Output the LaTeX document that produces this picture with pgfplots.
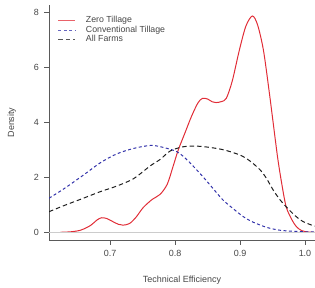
\documentclass[border=0pt]{standalone}
\usepackage{pgfplots}
\pgfplotsset{compat=1.18}
\usepackage{fontspec}
\setmainfont{Liberation Sans}
\definecolor{zt}{RGB}{225,45,55}
\definecolor{ct}{RGB}{50,50,170}
\definecolor{af}{RGB}{30,30,30}
\definecolor{ax}{RGB}{90,90,90}
\definecolor{tx}{RGB}{70,70,70}
\begin{document}
\begin{tikzpicture}
\path[use as bounding box] (0,0) rectangle (315bp,288bp);
\begin{axis}[
  at={(49bp,48bp)}, anchor=south west,
  scale only axis, width=266bp, height=235bp,
  xmin=0.606, xmax=1.0154, ymin=-0.28, ymax=8.27,
  axis x line*=bottom, axis y line*=left,
  axis line style={ax, line width=0.6pt, -},
  xtick={0.7,0.8,0.9,1.0}, ytick={0,2,4,6,8},
  xticklabels={0.7,0.8,0.9,1.0},
  tick style={ax, line width=0.6pt},
  tick align=outside, major tick length=4.5bp,
  /pgf/number format/assume math mode=true,
  ticklabel style={font=\fontsize{9}{10.8}\selectfont, text=tx},
  xticklabel style={yshift=-2bp},
  yticklabel style={xshift=-2bp},
  xlabel={Technical Efficiency}, ylabel={Density},
  label style={font=\fontsize{9}{10.8}\selectfont, text=tx},
  xlabel style={at={(axis description cs:0.5,-0.173)}, anchor=center},
  ylabel style={at={(axis description cs:-0.14,0.50)}, anchor=center},
  clip=true,
  legend cell align=left,
  legend style={draw=none, fill=none, inner sep=0pt, at={(axis description cs:0.034,0.954)}, anchor=north west,
    font=\fontsize{8.8}{10}\selectfont, text=tx, row sep=1.4bp,
    nodes={inner sep=0pt, text height=6.5bp, text depth=1.8bp}},
  legend image code/.code={\draw[#1, line width=0.5pt, draw opacity=0.75] (0bp,0bp) -- (17bp,0bp); \path (27bp,0bp);},
]
\addplot[zt, line width=1pt, smooth] coordinates {
(0.623,0) (0.64,0.02) (0.655,0.08) (0.67,0.25) (0.68,0.45) (0.687,0.53) (0.695,0.5) (0.705,0.38) (0.713,0.29) (0.72,0.26) (0.73,0.32) (0.74,0.55) (0.751,0.9) (0.765,1.2) (0.777,1.38) (0.788,1.75) (0.797,2.4) (0.805,3.0) (0.815,3.6) (0.825,4.2) (0.835,4.7) (0.842,4.87) (0.85,4.85) (0.857,4.75) (0.863,4.72) (0.872,4.76) (0.879,4.88) (0.888,5.5) (0.899,6.63) (0.909,7.5) (0.919,7.87) (0.927,7.55) (0.936,6.63) (0.945,5.1) (0.952,3.8) (0.958,2.7) (0.964,1.8) (0.971,0.93) (0.98,0.45) (0.987,0.2) (0.995,0.06) (1.005,0.01) (1.015,0)
};
\addlegendentry{Zero Tillage}
\addplot[ct, line width=1pt, smooth, dash pattern=on 3pt off 2.5pt] coordinates {
(0.606,1.24) (0.63,1.6) (0.66,2.1) (0.685,2.53) (0.71,2.85) (0.736,3.05) (0.762,3.16) (0.78,3.1) (0.803,2.93) (0.82,2.6) (0.843,2.02) (0.86,1.55) (0.874,1.17) (0.89,0.85) (0.905,0.57) (0.92,0.37) (0.941,0.18) (0.96,0.08) (0.98,0.04) (1.0,0.02) (1.015,0.01)
};
\addlegendentry{Conventional Tillage}
\addplot[af, line width=1pt, smooth, dash pattern=on 4.5pt off 3pt] coordinates {
(0.606,0.75) (0.63,0.98) (0.66,1.25) (0.685,1.48) (0.71,1.68) (0.736,1.95) (0.762,2.42) (0.777,2.65) (0.792,2.95) (0.81,3.1) (0.828,3.14) (0.85,3.1) (0.875,3.0) (0.9,2.81) (0.915,2.6) (0.931,2.27) (0.941,1.95) (0.951,1.54) (0.961,1.2) (0.971,0.93) (0.985,0.6) (0.997,0.39) (1.015,0.22)
};
\addlegendentry{All Farms}
\draw[black!20, line width=0.6pt] (axis cs:0.606,0) -- (axis cs:1.0154,0);
\end{axis}
\end{tikzpicture}
\end{document}
